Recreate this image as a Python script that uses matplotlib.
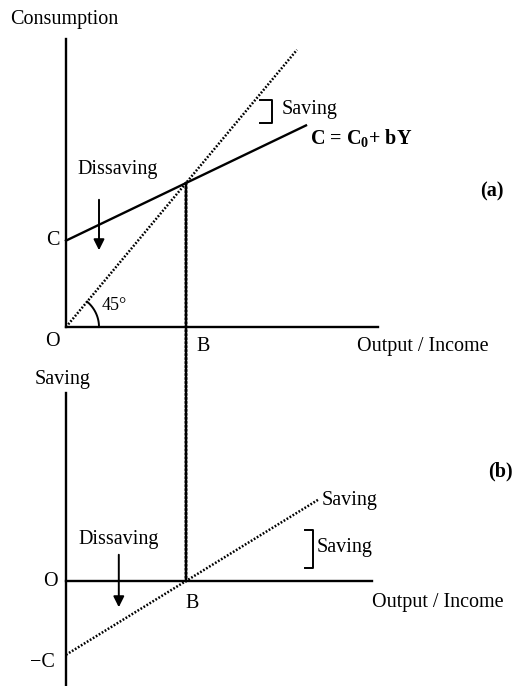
import numpy as np
import matplotlib
matplotlib.use("Agg")
import matplotlib.pyplot as plt
from matplotlib.patches import ConnectionPatch

# Keynesian consumption / saving functions, break-even income B normalised to 1
C0 = 0.6            # autonomous consumption
b = 0.4             # marginal propensity to consume
income_cons = [0.0, 2.0]     # range of the consumption line
income_45 = [0.0, 1.925]     # range of the 45 degree line
income_save = [0.0, 2.1]     # range of the saving line

x_axis_top = 2.6
y_axis_top = 2.0
x_axis_bot = 2.55
y_axis_bot = (1.53, -0.86)

plt.rcParams['font.family'] = ['Liberation Serif', 'DejaVu Serif']
plt.rcParams['mathtext.fontset'] = 'custom'
plt.rcParams['mathtext.bf'] = 'Liberation Serif:bold'
plt.rcParams['mathtext.rm'] = 'Liberation Serif'

FS = 14.5
LW = 1.7
DOT = (0, (0.7, 0.7))

fig = plt.figure(figsize=(5.15, 6.86), dpi=100)
ax1 = fig.add_axes([0, 0.446, 1, 0.554])
ax2 = fig.add_axes([0, 0, 1, 0.446])
for ax in (ax1, ax2):
    ax.set_axis_off()
    ax.set_xlim(-0.55, 3.7417)
ax1.set_ylim(-0.368, 2.2708)
ax2.set_ylim(-0.8537, 1.634)

breakeven = C0 / (1 - b)

# ---- (a) consumption function ----
ax1.plot([0, 0], [0, y_axis_top], color='black', lw=LW)
ax1.plot([0, x_axis_top], [0, 0], color='black', lw=LW)

yc = np.array(income_cons)
ax1.plot(yc, C0 + b * yc, color='black', lw=LW)
y45 = np.array(income_45)
ax1.plot(y45, y45, color='black', lw=1.8, ls=DOT)

# angle marker at the origin (circle in screen space)
t = np.linspace(0, np.arctan2(144, 120), 40)
ax1.plot(0.275 * np.cos(t), 0.229 * np.sin(t), color='black', lw=1.4)

# saving bracket between the two lines
ax1.plot([1.617, 1.717, 1.717, 1.617], [1.576, 1.576, 1.417, 1.417],
         color='black', lw=1.4)

ax1.annotate('', xy=(0.275, 0.514), xytext=(0.275, 0.903),
             arrowprops=dict(arrowstyle='-|>', color='black', lw=1.4,
                             mutation_scale=16))

ax1.text(-0.467, 2.104, 'Consumption', fontsize=FS, va='baseline')
ax1.text(1.8, 1.479, 'Saving', fontsize=FS, va='baseline')
ax1.text(2.033, 1.264, r'C = C$_{\mathbf{0}}$+ bY', fontsize=FS,
         fontweight='bold', va='baseline')
ax1.text(0.092, 1.0625, 'Dissaving', fontsize=FS, va='baseline')
ax1.text(3.45, 0.91, '(a)', fontsize=FS, fontweight='bold', va='baseline')
ax1.text(-0.05, C0, 'C', fontsize=FS, ha='right', va='center')
ax1.text(0.3, 0.118, '45°', fontsize=FS - 1.5, va='baseline')
ax1.text(-0.05, -0.097, 'O', fontsize=FS, ha='right', va='center')
ax1.text(1.14, -0.132, 'B', fontsize=FS, ha='center', va='center')
ax1.text(2.425, -0.167, 'Output / Income', fontsize=FS, va='baseline')

# ---- (b) saving function ----
ax2.plot([0, 0], list(y_axis_bot), color='black', lw=LW, clip_on=False)
ax2.plot([0, x_axis_bot], [0, 0], color='black', lw=LW)

ys = np.array(income_save)
ax2.plot(ys, -C0 + (1 - b) * ys, color='black', lw=1.8, ls=DOT)

ax2.plot([1.99, 2.06, 2.06, 1.99], [0.415, 0.415, 0.106, 0.106],
         color='black', lw=1.4)

ax2.annotate('', xy=(0.44, -0.236), xytext=(0.44, 0.236),
             arrowprops=dict(arrowstyle='-|>', color='black', lw=1.4,
                             mutation_scale=16))

ax2.text(-0.258, 1.60, 'Saving', fontsize=FS, va='baseline')
ax2.text(3.517, 0.85, '(b)', fontsize=FS, fontweight='bold', va='baseline')
ax2.text(2.133, 0.618, 'Saving', fontsize=FS, va='baseline')
ax2.text(2.09, 0.236, 'Saving', fontsize=FS, va='baseline')
ax2.text(0.1, 0.30, 'Dissaving', fontsize=FS, va='baseline')
ax2.text(-0.067, 0, 'O', fontsize=FS, ha='right', va='center')
ax2.text(1.05, -0.18, 'B', fontsize=FS, ha='center', va='center')
ax2.text(-0.092, -0.66, '−C', fontsize=FS, ha='right', va='center')
ax2.text(2.55, -0.21, 'Output / Income', fontsize=FS, va='baseline')

# break-even link between the two panels
con = ConnectionPatch(xyA=(breakeven, C0 + b * breakeven), coordsA=ax1.transData,
                      xyB=(breakeven, 0), coordsB=ax2.transData,
                      color='black', lw=2.2, ls=(0, (0.55, 0.75)))
fig.add_artist(con)

fig.savefig('out.png', dpi=100, facecolor='white')
